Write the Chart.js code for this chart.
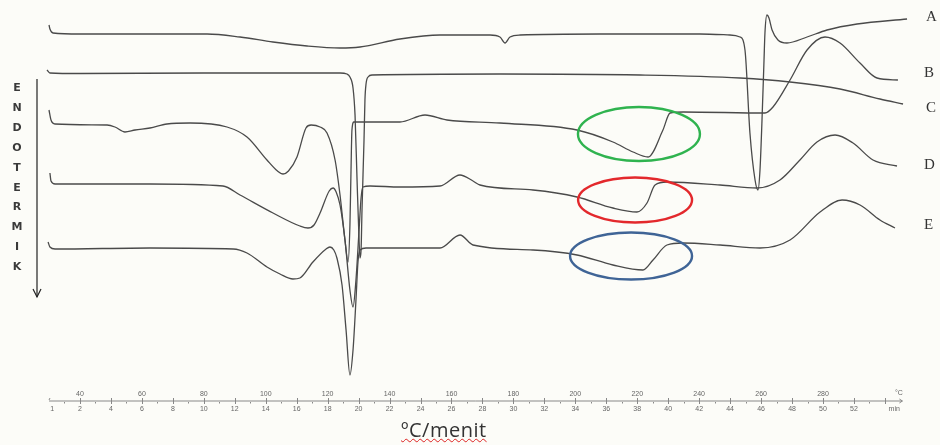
<!DOCTYPE html>
<html>
<head>
<meta charset="utf-8">
<script src="https://cdn.jsdelivr.net/npm/chart.js@4"></script>
<style>
  body{ margin:0; background:#fcfcf8; }
  #wrap{ position:relative; width:940px; height:445px; overflow:hidden; }
  canvas{ position:absolute; left:0; top:0; }
  .lbl{ position:absolute; font-family:"Liberation Serif",serif; font-size:15px; color:#333; line-height:1; }
  .endo{ position:absolute; left:10px; width:14px; text-align:center; font-family:"DejaVu Sans",sans-serif; font-weight:bold; font-size:11px; color:#3a3a3a; line-height:1; }
  #unit{ position:absolute; left:401px; top:418px; font-family:"Open Sans",sans-serif; font-size:20px; line-height:24px; color:#333; letter-spacing:0.5px;
         text-decoration:underline wavy #d22; text-decoration-thickness:1px; text-underline-offset:1px; }
</style>
</head>
<body>
<div id="wrap">
  <canvas id="c" width="940" height="445"></canvas>
  <div id="unit">ºC/menit</div>
</div>
<script>
// x = time (min), y = signal offset (downward = endothermic)
const seriesA = [[0,25],[0.06,29],[0.26,33],[2,34],[10.21,34],[12.34,37],[14.47,42],[16.67,46],[18.8,48],[20.09,47],
  [22.67,39],[25.26,35],[28.49,35],[29.13,37],[29.46,43],[29.78,37],[30.43,35],[35.59,34],[42.05,34],[43.99,35],
  [44.64,37],[44.96,50],[45.28,133],[45.61,180],[45.8,190],[45.93,170],[46.06,120],[46.19,60],[46.25,33],[46.38,15],
  [46.51,18],[46.71,30],[47.09,40],[47.67,43],[48.97,37],[50.26,30],[52.2,24],[55.43,19]];
const seriesB = [[-0.13,70],[0.06,73],[2,73.5],[10,73],[18.8,73],[19.25,74],[19.44,77],[19.64,88],[19.77,115],[19.9,180],
  [20.03,240],[20.09,258],[20.16,250],[20.22,210],[20.35,140],[20.41,100],[20.48,84],[20.61,77],[20.87,75],[29.13,74],
  [38.18,75],[44.64,78],[47.87,82],[51.1,89],[53.68,99],[55.17,104]];
const seriesC = [[0,110],[0.13,120],[0.39,124],[3.75,125],[4.26,127],[4.91,132],[5.56,130],[6.52,128],[7.62,124],[9.11,123],
  [11.5,127],[12.79,137],[14.08,160],[14.76,171],[15.12,174],[15.47,171],[16.02,157],[16.6,128],[16.93,125],[17.51,127],
  [17.96,133],[18.48,160],[18.8,195],[19.12,240],[19.32,262],[19.44,225],[19.51,170],[19.57,130],[19.7,122],[22.67,122],
  [24.29,115],[25.71,120],[29.13,123],[34.11,130],[36.43,142],[37.73,152],[38.7,157],[39.66,130],[40.12,113],[40.96,112],
  [46.25,113],[46.77,107],[47.87,80],[48.97,50],[50.13,37],[51.1,43],[52.39,63],[53.49,78],[54.84,80]];
const seriesD = [[0.06,173],[0.13,181],[0.39,184],[6.52,184],[11.24,186],[12.34,195],[14.47,213],[16.21,226],[16.73,228],
  [17.12,225],[17.51,213],[18.1,191],[18.35,188],[18.55,192],[18.8,205],[19.12,240],[19.44,290],[19.64,307],[19.83,280],
  [20.03,230],[20.16,198],[20.28,187],[20.74,186],[22.67,187],[25.26,186],[26.55,175],[27.39,181],[27.84,185],[31.27,190],
  [34.11,197],[36.43,208],[37.98,212],[38.63,203],[39.15,185],[39.92,182],[43.35,185],[45.74,188],[47.22,180],[48.51,160],
  [49.61,142],[50.78,135],[51.94,143],[53.23,160],[54.78,166]];
const seriesE = [[-0.06,242],[0.06,247],[0.39,249],[6.52,248],[11.89,249],[12.79,253],[14.08,267],[14.92,274],[15.76,279],
  [16.21,278],[17.05,262],[17.9,249],[18.15,247],[18.4,250],[18.6,258],[18.93,285],[19.19,330],[19.44,375],[19.64,350],
  [19.83,300],[19.96,262],[20.09,250],[20.48,248],[25.26,248],[26.55,235],[27.39,245],[31.27,250],[34.11,255],[36.43,265],
  [38.37,270],[39.02,260],[39.92,245],[40.96,243],[43.35,245],[45.93,248],[47.87,240],[49.81,212],[51.23,200],[52.39,205],
  [53.68,220],[54.65,228]];

const curveNames = ['A','B','C','D','E'];
const curveLabelY = [17, 73, 108, 165, 225];

// axis: minutes below the line, temperature above it
const minuteTicks = [2,4,6,8,10,12,14,16,18,20,22,24,26,28,30,32,34,36,38,40,42,44,46,48,50,52];
const tempTickMin = [2,6,10,14,18,22,26,30,34,38,42,46,50];
const tempTickLabels = ['40','60','80','100','120','140','160','180','200','220','240','260','280'];

// highlighted rings (centre min, centre y, half width min, half height)
const ringMin = [38.11, 37.86, 37.6];
const ringY = [134, 200, 256];
const ringHalfW = [3.94, 3.68, 3.94];
const ringHalfH = [27, 22.5, 23.5];
const ringColors = ['#2fb34f', '#e3282c', '#3f6496'];

const endoText = 'ENDOTERMIK';

// html labels
const wrap = document.getElementById('wrap');
curveNames.forEach((n,i)=>{
  const d = document.createElement('div'); d.className='lbl'; d.textContent=n;
  d.style.left = (n==='A'||n==='C' ? 926 : 924)+'px'; d.style.top = (curveLabelY[i]-8)+'px';
  wrap.appendChild(d);
});
endoText.split('').forEach((ch,i)=>{
  const d = document.createElement('div'); d.className='endo'; d.textContent=ch;
  d.style.top = (82 + i*19.9)+'px';
  wrap.appendChild(d);
});

const decor = {
  id:'decor',
  afterDraw(chart){
    const ctx = chart.ctx, xs = chart.scales.x, ys = chart.scales.y;
    ctx.save();
    // rings
    ringMin.forEach((m,i)=>{
      const cx = xs.getPixelForValue(m), cy = ys.getPixelForValue(ringY[i]);
      const rx = xs.getPixelForValue(m+ringHalfW[i]) - cx;
      const ry = Math.abs(ys.getPixelForValue(ringY[i]+ringHalfH[i]) - cy);
      ctx.beginPath(); ctx.ellipse(cx, cy, rx, ry, 0, 0, Math.PI*2);
      ctx.strokeStyle = ringColors[i]; ctx.lineWidth = 2.4; ctx.stroke();
    });
    // endotherm arrow
    ctx.strokeStyle = '#222'; ctx.lineWidth = 1.2;
    ctx.beginPath(); ctx.moveTo(37,79); ctx.lineTo(37,297); ctx.stroke();
    ctx.beginPath(); ctx.moveTo(33,289); ctx.lineTo(37,297); ctx.lineTo(41,289); ctx.stroke();
    // time axis
    const ay = 401, x0 = xs.getPixelForValue(0), x1 = xs.getPixelForValue(55);
    ctx.strokeStyle = '#888'; ctx.lineWidth = 1;
    ctx.beginPath(); ctx.moveTo(x0, ay); ctx.lineTo(x1+2, ay); ctx.stroke();
    ctx.beginPath(); ctx.moveTo(x1-1, ay-2); ctx.lineTo(x1+2, ay); ctx.lineTo(x1-1, ay+2); ctx.stroke();
    ctx.beginPath(); ctx.moveTo(x0+1, ay-3); ctx.lineTo(x0, ay-1); ctx.stroke();
    for (let m=1; m<55; m++){
      const px = Math.round(xs.getPixelForValue(m))+0.5;
      ctx.beginPath();
      if (m%2===0){ ctx.moveTo(px, ay-3); ctx.lineTo(px, ay+3); }
      else { ctx.moveTo(px, ay+1); ctx.lineTo(px, ay+2.5); }
      ctx.stroke();
    }
    ctx.fillStyle = '#666'; ctx.font = '7px "Liberation Sans", sans-serif'; ctx.textAlign = 'center';
    ctx.textBaseline = 'middle';
    minuteTicks.forEach(m=>ctx.fillText(String(m), xs.getPixelForValue(m), ay+8));
    tempTickMin.forEach((m,i)=>ctx.fillText(tempTickLabels[i], xs.getPixelForValue(m), ay-7));
    ctx.fillText('1', xs.getPixelForValue(0.2), ay+8);
    ctx.fillText('min', xs.getPixelForValue(54.6), ay+8);
    ctx.fillText('°C', xs.getPixelForValue(54.9), ay-8);
    ctx.restore();
  }
};

const mk = (data)=>({ data, borderColor:'#4a4a4a', borderWidth:1.3, pointRadius:0, fill:false,
  cubicInterpolationMode:'monotone', clip:false });

new Chart(document.getElementById('c'), {
  type:'line',
  data:{ datasets:[mk(seriesA), mk(seriesB), mk(seriesC), mk(seriesD), mk(seriesE)] },
  options:{
    responsive:false, animation:false, devicePixelRatio:1,
    layout:{ padding:{ left:49, right:39.6, top:0, bottom:0 } },
    plugins:{ legend:{display:false}, tooltip:{enabled:false} },
    scales:{
      x:{ type:'linear', min:0, max:55, display:false },
      y:{ min:0, max:445, reverse:true, display:false }
    }
  },
  plugins:[decor]
});
</script>
</body>
</html>
